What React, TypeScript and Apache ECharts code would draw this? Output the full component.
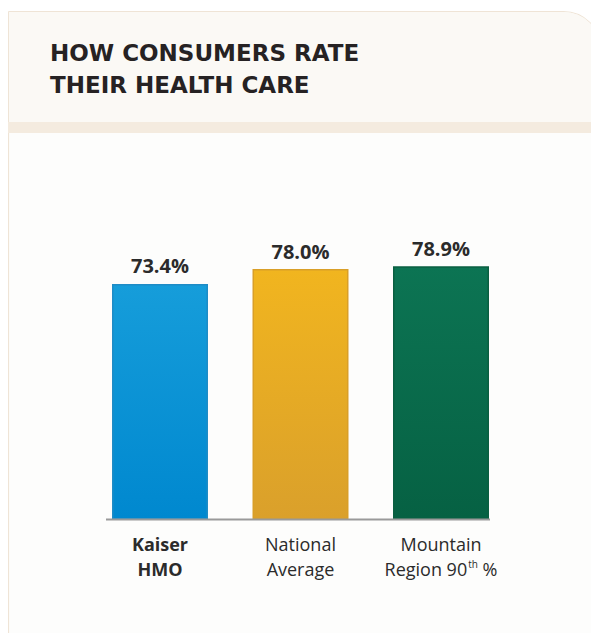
import React, { useEffect, useRef } from "react";
import * as echarts from "echarts";

const categories = ["Kaiser HMO", "National Average", "Mountain Region 90th %"];
const values = [73.4, 78.0, 78.9];
const valueLabels = ["73.4%", "78.0%", "78.9%"];
const titleLines = ["HOW CONSUMERS RATE", "THEIR HEALTH CARE"];

const barColors = [
  { top: "#169dda", bottom: "#0088cf", border: "#1f8cc6" },
  { top: "#f1b51f", bottom: "#daa02b", border: "#d99f28" },
  { top: "#0c7453", bottom: "#066143", border: "#0a5f41" },
];

const FONT = "'Open Sans', sans-serif";
const TITLE_FONT = "'DejaVu Sans', sans-serif";

export default function App() {
  const ref = useRef<HTMLDivElement>(null);
  useEffect(() => {
    if (!ref.current) return;
    const chart = echarts.init(ref.current, null, { renderer: "svg" });
    const W = 591;
    const H = 625;
    chart.setOption({
      animation: false,
      backgroundColor: "#ffffff",
      title: {
        text: titleLines.join("\n"),
        left: 37,
        top: 24,
        textStyle: {
          fontFamily: TITLE_FONT,
          fontSize: 23,
          fontWeight: "bold",
          color: "#262223",
          lineHeight: 32,
        },
      },
      graphic: [
        {
          type: "rect",
          z: -10,
          shape: { x: 0.5, y: 3.5, width: 592, height: H + 20, r: [0, 37, 0, 0] },
          style: { fill: "#fdfdfc", stroke: "#efe4d6", lineWidth: 1.2 },
          silent: true,
        },
        {
          type: "rect",
          z: -9,
          shape: { x: 1, y: 4, width: 591, height: 110, r: [0, 36, 0, 0] },
          style: { fill: "#fbf9f5" },
          silent: true,
        },
        {
          type: "rect",
          z: -8,
          shape: { x: 0, y: 114, width: W, height: 11 },
          style: { fill: "#f4ebdf" },
          silent: true,
        },
        {
          type: "line",
          z: 5,
          shape: { x1: 98, y1: 511.5, x2: 482, y2: 511.5 },
          style: { stroke: "#9a9a9a", lineWidth: 2 },
          silent: true,
        },
      ],
      grid: { left: 81.75, right: W - 81.75 - 421.5, top: 190.5, bottom: H - 511.5 },
      xAxis: {
        type: "category",
        data: categories,
        axisLine: { show: false },
        axisTick: { show: false },
        axisLabel: {
          margin: 12,
          interval: 0,
          formatter: (v: string, i: number) => {
            if (i === 0) return "{b|Kaiser}\n{b|HMO}";
            if (i === 1) return "{r|National}\n{r|Average}";
            return "{r|Mountain}\n{r|Region 90}{sup|th}{r| %}";
          },
          rich: {
            b: { fontFamily: FONT, fontSize: 18, fontWeight: 700, color: "#2b2b2b", lineHeight: 25 },
            r: { fontFamily: FONT, fontSize: 18, fontWeight: 400, color: "#2b2b2b", lineHeight: 25 },
            sup: { fontFamily: FONT, fontSize: 10, color: "#2b2b2b", verticalAlign: "top", lineHeight: 25, padding: [2, 0, 0, 1] },
          },
        },
      },
      yAxis: {
        type: "value",
        min: 0,
        max: 100,
        show: false,
      },
      series: [
        {
          type: "bar",
          barWidth: 96,
          data: values.map((v, i) => ({
            value: v,
            itemStyle: {
              color: new echarts.graphic.LinearGradient(0, 0, 0, 1, [
                { offset: 0, color: barColors[i].top },
                { offset: 1, color: barColors[i].bottom },
              ]),
              borderColor: barColors[i].border,
              borderWidth: 1.5,
            },
          })),
          label: {
            show: true,
            position: "top",
            distance: 8,
            formatter: (p: any) => valueLabels[p.dataIndex],
            fontFamily: FONT,
            fontSize: 20,
            fontWeight: 700,
            color: "#2b2b2b",
          },
        },
      ],
    });
    return () => chart.dispose();
  }, []);
  return <div ref={ref} style={{ width: 591, height: 625 }} />;
}
